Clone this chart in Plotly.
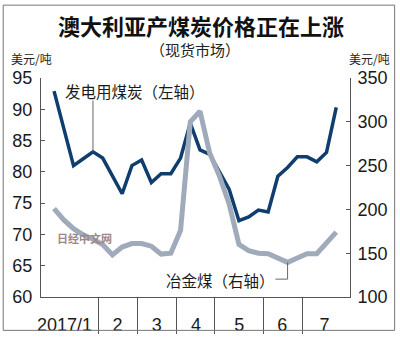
import plotly.graph_objects as go

# weekly observations, Jan-Jul 2017 (index = week number)
week_idx = list(range(30))
thermal_coal = [92.9, 87.0, 81.0, 82.1, 83.2, 82.2, 79.4, 76.5, 81.0, 81.9,
                78.3, 79.7, 79.7, 82.2, 87.8, 83.5, 82.8, 80.0, 77.2, 72.2,
                72.8, 73.9, 73.6, 79.3, 80.7, 82.4, 82.4, 81.6, 83.1, 90.3]
met_coal = [201, 188, 178, 171, 166, 160, 148, 157, 161, 161,
            158, 149, 150, 176, 300, 312, 264, 238, 206, 160,
            153, 150, 149.5, 145, 139.5, 144.5, 149.5, 149.5, 162, 174]
month_labels = ["2017/1", "2", "3", "4", "5", "6", "7"]
month_label_pos = [1.08, 6.52, 10.55, 14.58, 19.02, 23.46, 27.8]
month_dividers = [4.61, 8.54, 12.57, 16.5, 21.55, 25.58]
left_ticks = [60, 65, 70, 75, 80, 85, 90, 95]
right_ticks = [100, 150, 200, 250, 300, 350]

W, H = 400, 347
L, R, T, B = 39, 354, 78, 311

def px(p):
    return (p - L) / (R - L)

def py(p):
    return (B - p) / (B - T)

CJK = "Noto Sans CJK SC"
NUM = "Liberation Sans, Arial, sans-serif"
AX = "#555555"

fig = go.Figure()
fig.add_trace(go.Scatter(x=week_idx, y=met_coal, yaxis="y2", mode="lines",
                         line=dict(color="#9faabb", width=5), hoverinfo="skip"))
fig.add_trace(go.Scatter(x=week_idx, y=thermal_coal, yaxis="y", mode="lines",
                         line=dict(color="#0f3e6e", width=3.5), hoverinfo="skip"))

fig.update_layout(
    width=W, height=H,
    margin=dict(l=L, r=W - R, t=T, b=H - B, pad=0),
    paper_bgcolor="white", plot_bgcolor="white",
    showlegend=False,
    xaxis=dict(range=[(L - 52.3) / 9.92, (R - 52.3) / 9.92],
               showgrid=False, zeroline=False, showline=True,
               linecolor=AX, linewidth=1,
               tickmode="array", tickvals=month_label_pos, ticktext=month_labels,
               ticks="", ticklabelstandoff=11,
               tickfont=dict(family=NUM, size=18, color="#1a1a1a"),
               minor=dict(tickmode="array", tickvals=month_dividers,
                          ticks="outside", ticklen=36, tickcolor=AX, tickwidth=1,
                          showgrid=False)),
    yaxis=dict(range=[60, 95], tickmode="array", tickvals=left_ticks,
               showgrid=False, zeroline=False, showline=True,
               linecolor=AX, linewidth=1, ticks="inside", ticklen=4,
               tickcolor=AX, ticklabelstandoff=4,
               tickfont=dict(family=NUM, size=18, color="#1a1a1a")),
    yaxis2=dict(range=[100, 350], tickmode="array", tickvals=right_ticks,
                overlaying="y", side="right",
                showgrid=False, zeroline=False, showline=True,
                linecolor=AX, linewidth=1, ticks="inside", ticklen=4,
                tickcolor=AX, ticklabelstandoff=3,
                tickfont=dict(family=NUM, size=18, color="#1a1a1a")),
)

ann = []
ann.append(dict(text="<b>澳大利亚产煤炭价格正在上涨</b>", x=px(202), y=py(22),
                font=dict(family=CJK, size=22, color="#111")))
ann.append(dict(text="（现货市场）", x=px(196), y=py(48),
                font=dict(family=CJK, size=15, color="#222")))
ann.append(dict(text="美元/吨", x=px(29), y=py(57),
                font=dict(family=CJK, size=12, color="#222")))
ann.append(dict(text="美元/吨", x=px(374), y=py(57),
                font=dict(family=CJK, size=12, color="#222")))
ann.append(dict(text="发电用煤炭（左轴）", x=px(135), y=py(92),
                font=dict(family=CJK, size=15.5, color="#1a1a1a")))
ann.append(dict(text="冶金煤（右轴）", x=px(222), y=py(293),
                font=dict(family=CJK, size=15.5, color="#1a1a1a")))
ann.append(dict(text="<b>日经中文网</b>", x=px(83), y=py(248),
                font=dict(family=CJK, size=11, color="#a08686")))
for a in ann:
    a.update(xref="paper", yref="paper", showarrow=False,
             xanchor="center", yanchor="middle")
fig.update_layout(annotations=ann)

shapes = []
# leader for thermal coal label
shapes.append(dict(type="line", xref="x", yref="y", x0=4, x1=4,
                   y0=thermal_coal[4], y1=91.4,
                   line=dict(color="#666", width=1)))
# bracket for met coal label
shapes.append(dict(type="line", xref="x", yref="y2", x0=24, x1=24,
                   y0=met_coal[24], y1=120.4, line=dict(color="#666", width=1)))
shapes.append(dict(type="line", xref="x", yref="y2", x0=22.75, x1=24,
                   y0=120.4, y1=120.4, line=dict(color="#666", width=1)))
# outer frame
shapes.append(dict(type="rect", xref="paper", yref="paper",
                   x0=px(0.5), x1=px(399.5), y0=py(346.5), y1=py(0.5),
                   line=dict(color="#777", width=1), fillcolor="rgba(0,0,0,0)"))
fig.update_layout(shapes=shapes)

fig.write_html("out.html")
